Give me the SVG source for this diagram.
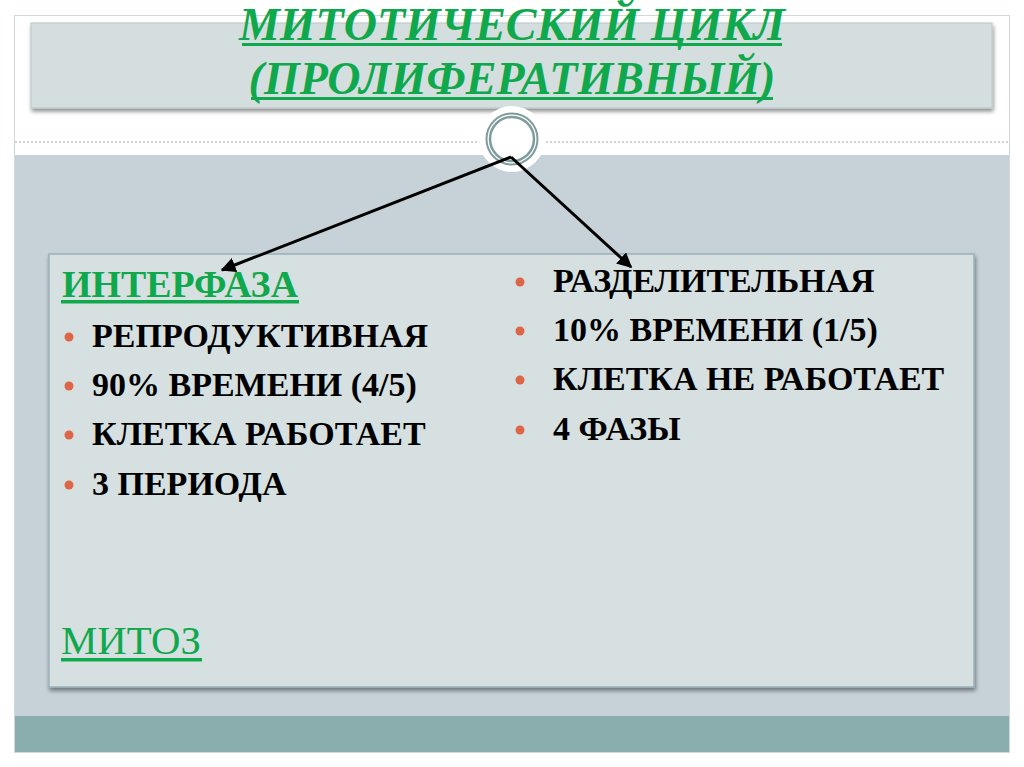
<svg xmlns="http://www.w3.org/2000/svg" width="1024" height="767" viewBox="0 0 1024 767">
<defs>
<style>
.ul{fill:#10a84c}
.dot{fill:#de6646}
.conn{stroke:#000;stroke-width:3;fill:none;marker-end:url(#ah)}
</style>
<marker id="ah" viewBox="0 0 10 10" refX="9" refY="5" markerWidth="5" markerHeight="5" orient="auto" markerUnits="strokeWidth">
<path d="M0,0 L10,5 L0,10 z" fill="#000"/>
</marker>
<filter id="sh" x="-5%" y="-10%" width="110%" height="130%">
<feGaussianBlur in="SourceAlpha" stdDeviation="2"/>
<feOffset dx="1" dy="3" result="b"/>
<feComponentTransfer><feFuncA type="linear" slope="0.45"/></feComponentTransfer>
<feMerge><feMergeNode/><feMergeNode in="SourceGraphic"/></feMerge>
</filter>
</defs>
<rect width="1024" height="767" fill="#ffffff"/>
<g id="background">
<rect x="14.5" y="15.5" width="995" height="737" fill="#ffffff" stroke="#d0d8da" stroke-width="1"/>
<rect x="15" y="155" width="994" height="561" fill="#c6d2d7"/>
<rect x="15" y="716" width="994" height="36" fill="#8aadad"/>
<line x1="15" y1="142" x2="484" y2="142" stroke="#9aa8aa" stroke-width="1" stroke-dasharray="2,2"/>
<line x1="542" y1="142" x2="1009" y2="142" stroke="#9aa8aa" stroke-width="1" stroke-dasharray="2,2"/>
</g>
<g id="title">
<rect x="31" y="23" width="961" height="85" fill="#d4dede" stroke="#b8c6c8" stroke-width="1" filter="url(#sh)"/>
<text x="512" y="40" text-anchor="middle" font-family="Liberation Serif" font-weight="bold" font-style="italic" font-size="46" fill="#10a84c">МИТОТИЧЕСКИЙ ЦИКЛ</text>
<rect class="ul" x="242" y="43" width="540" height="3"/>
<text x="512" y="94" text-anchor="middle" font-family="Liberation Serif" font-weight="bold" font-style="italic" font-size="46" fill="#10a84c">(ПРОЛИФЕРАТИВНЫЙ)</text>
<rect class="ul" x="251" y="97" width="522" height="3"/>
</g>
<g id="hub">
<circle cx="512" cy="139" r="33" fill="#ffffff"/>
<circle cx="512" cy="139" r="25.5" fill="#ffffff" stroke="#7f9c9c" stroke-width="2"/>
<circle cx="512" cy="139" r="22" fill="#ffffff" stroke="#7f9c9c" stroke-width="2.5"/>
</g>
<g id="content">
<rect x="49" y="254" width="925" height="433" fill="#d6e0e1" stroke="#9cb0b6" stroke-width="1.5" filter="url(#sh)"/>
</g>
<g id="interphase">
<text x="62" y="297" font-family="Liberation Serif" font-weight="bold" font-size="38" fill="#10a84c" textLength="236" lengthAdjust="spacingAndGlyphs">ИНТЕРФАЗА</text>
<rect class="ul" x="61" y="300" width="238" height="3.5"/>
<circle class="dot" cx="69" cy="337" r="4.5"/>
<text x="92" y="347" font-family="Liberation Serif" font-weight="bold" font-size="34" fill="#000">РЕПРОДУКТИВНАЯ</text>
<circle class="dot" cx="69" cy="386" r="4.5"/>
<text x="92" y="396" font-family="Liberation Serif" font-weight="bold" font-size="34" fill="#000">90% ВРЕМЕНИ (4/5)</text>
<circle class="dot" cx="69" cy="435" r="4.5"/>
<text x="92" y="445" font-family="Liberation Serif" font-weight="bold" font-size="34" fill="#000">КЛЕТКА РАБОТАЕТ</text>
<circle class="dot" cx="69" cy="485" r="4.5"/>
<text x="92" y="495" font-family="Liberation Serif" font-weight="bold" font-size="34" fill="#000">3 ПЕРИОДА</text>
</g>
<g id="mitosis">
<circle class="dot" cx="520" cy="282" r="4.5"/>
<text x="553" y="292" font-family="Liberation Serif" font-weight="bold" font-size="34" fill="#000">РАЗДЕЛИТЕЛЬНАЯ</text>
<circle class="dot" cx="520" cy="331" r="4.5"/>
<text x="553" y="341" font-family="Liberation Serif" font-weight="bold" font-size="34" fill="#000">10% ВРЕМЕНИ (1/5)</text>
<circle class="dot" cx="520" cy="380" r="4.5"/>
<text x="553" y="390" font-family="Liberation Serif" font-weight="bold" font-size="34" fill="#000">КЛЕТКА НЕ РАБОТАЕТ</text>
<circle class="dot" cx="520" cy="430" r="4.5"/>
<text x="553" y="440" font-family="Liberation Serif" font-weight="bold" font-size="34" fill="#000">4 ФАЗЫ</text>
<text x="61" y="654" font-family="Liberation Serif" font-size="39" fill="#10a84c" textLength="140" lengthAdjust="spacingAndGlyphs">МИТОЗ</text>
<rect class="ul" x="61" y="658" width="141" height="3.5"/>
</g>
<g id="connectors">
<line class="conn" x1="511" y1="157" x2="222" y2="270"/>
<line class="conn" x1="511" y1="157" x2="631" y2="267"/>
</g>
</svg>
